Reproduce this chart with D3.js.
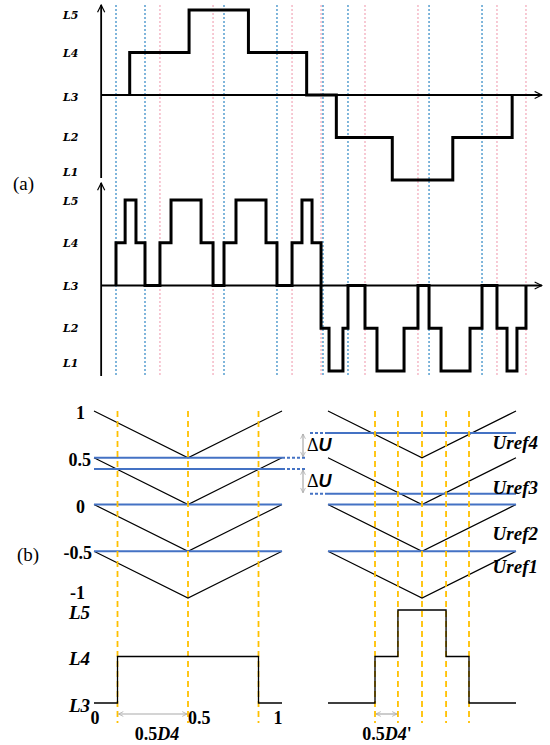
<!DOCTYPE html>
<html>
<head>
<meta charset="utf-8">
<script src="https://cdn.jsdelivr.net/npm/d3@7"></script>
<style>
body { margin: 0; background: #fff; }
</style>
</head>
<body>
<div id="chart"></div>
<script>
// ---- (a) staircase / PWM waveforms, time in degrees of the fundamental ----
const levelNames = ['L1', 'L2', 'L3', 'L4', 'L5'];
// [t, level from t on]
const staircaseWave = [[12, 3], [12, 4], [64, 5], [116, 4], [167, 3], [193, 2], [242, 1], [295, 2], [347, 3]];
const pwmWave = [
    [0, 3], [0, 4], [8, 5], [17.5, 4], [25.4, 3], [38.5, 4], [48.2, 5], [74.5, 4], [85, 3],
    [94.6, 4], [105.1, 5], [131.4, 4], [141, 3], [154.2, 4], [162.9, 5], [171.7, 4], [179.6, 2],
    [186.6, 1], [198.8, 2], [203.2, 3], [218.1, 2], [228.6, 1], [252.3, 2], [264.5, 3], [274.2, 2],
    [284.7, 1], [310.1, 2], [320.6, 3], [333.7, 2], [342.5, 1], [351.2, 2], [359.1, 3]
];
const blueGuides = [0, 25.4, 94.6, 141, 181.3, 203.2, 274.2, 320.6];
const pinkGuides = [38.5, 85, 154.2, 179.6, 218.1, 264.5, 333.7, 359.1];

// ---- (b) carrier comparison, one switching period ----
const carrierBands = [[0.5, 1], [0, 0.5], [-0.5, 0], [-1, -0.5]];
const carrierTicks = [1, 0.5, 0, -0.5, -1];
const urefLeft = [0.5, 0.38, 0, -0.5];
const urefRight = [0.765, 0.115, 0, -0.5];
const urefNames = ['Uref4', 'Uref3', 'Uref2', 'Uref1'];
const urefNamePos = [0.658, 0.187, -0.305, -0.668];
const switchLeft = [0.125, 0.5, 0.875];
const switchRight = [0.25, 0.372, 0.5, 0.628, 0.75];
const outLeft = [[0, 3], [0.125, 4], [0.875, 3], [1, 3]];
const outRight = [[0, 3], [0.25, 4], [0.372, 5], [0.628, 4], [0.75, 3], [1, 3]];
const outLevels = ['L3', 'L4', 'L5'];
const phaseTicks = [0, 0.5, 1];

const width = 550, height = 745;
const svg = d3.select('#chart').append('svg')
    .attr('width', width)
    .attr('height', height);

const defs = svg.append('defs');
defs.append('marker')
    .attr('id', 'axisArrow')
    .attr('viewBox', '0 0 10 10')
    .attr('refX', 9).attr('refY', 5)
    .attr('markerWidth', 5).attr('markerHeight', 5)
    .attr('markerUnits', 'strokeWidth')
    .attr('orient', 'auto')
    .append('path')
    .attr('d', 'M1,1 L9,5 L1,9')
    .attr('fill', 'none').attr('stroke', 'black').attr('stroke-width', 1.3);
defs.append('marker')
    .attr('id', 'greyArrow')
    .attr('viewBox', '0 0 10 10')
    .attr('refX', 9).attr('refY', 5)
    .attr('markerWidth', 6).attr('markerHeight', 6)
    .attr('markerUnits', 'userSpaceOnUse')
    .attr('orient', 'auto-start-reverse')
    .append('path')
    .attr('d', 'M1,1 L9,5 L1,9')
    .attr('fill', 'none').attr('stroke', '#aaa').attr('stroke-width', 1.3);

// ---------------- (a) ----------------
const xA = d3.scaleLinear().domain([0, 360]).range([116, 527]);
const yTop = d3.scaleLinear().domain([1, 5]).range([180, 10]);
const yBot = d3.scaleLinear().domain([1, 5]).range([371, 200]);

const gA = svg.append('g');

// dotted guides
gA.selectAll('.pink').data(pinkGuides).enter().append('line')
    .attr('x1', d => xA(d)).attr('x2', d => xA(d))
    .attr('y1', 5).attr('y2', 376)
    .attr('stroke', '#f2a7b8').attr('stroke-width', 1.2)
    .attr('stroke-dasharray', '2,2');
gA.selectAll('.blue').data(blueGuides).enter().append('line')
    .attr('x1', d => xA(d)).attr('x2', d => xA(d))
    .attr('y1', 5).attr('y2', 376)
    .attr('stroke', '#3d8fc8').attr('stroke-width', 1.3)
    .attr('stroke-dasharray', '2,2');

function drawPanel(y, wave, yAxisTop, yAxisBottom, labelDy) {
    // axes
    gA.append('line')
        .attr('x1', xA(-13)).attr('x2', xA(-13))
        .attr('y1', yAxisBottom).attr('y2', yAxisTop)
        .attr('stroke', 'black').attr('stroke-width', 1.8)
        .attr('marker-end', 'url(#axisArrow)');
    gA.append('line')
        .attr('x1', xA(-13)).attr('x2', xA(373))
        .attr('y1', y(3)).attr('y2', y(3))
        .attr('stroke', 'black').attr('stroke-width', 1.8)
        .attr('marker-end', 'url(#axisArrow)');

    gA.append('path')
        .datum(wave)
        .attr('d', d3.line().x(d => xA(d[0])).y(d => y(d[1])).curve(d3.curveStepAfter))
        .attr('fill', 'none')
        .attr('stroke', 'black')
        .attr('stroke-width', 3);

    gA.selectAll(null).data(levelNames).enter().append('text')
        .attr('x', 63)
        .attr('y', (d, i) => y(i + 1) + labelDy[i])
        .attr('dominant-baseline', 'central')
        .attr('font-family', 'DejaVu Serif')
        .attr('font-style', 'italic')
        .attr('font-weight', 'bold')
        .attr('font-size', 11)
        .text(d => d);
}

drawPanel(yTop, staircaseWave, 5, 178, [-8, 0, 2, 1, 5]);
drawPanel(yBot, pwmWave, 183, 376, [-8, 0, 1, 1, 1]);

svg.append('text')
    .attr('x', 13).attr('y', 190)
    .attr('font-family', 'Liberation Serif')
    .attr('font-size', 19)
    .text('(a)');

// ---------------- (b) ----------------
const yB = d3.scaleLinear().domain([-1, 1]).range([598, 411]);
const yOut = d3.scaleLinear().domain([3, 5]).range([703, 610]);
const xL = d3.scaleLinear().domain([0, 1]).range([94, 282]);
const xR = d3.scaleLinear().domain([0, 1]).range([328, 516]);

const gB = svg.append('g');

function drawCompare(x, urefs, switches, out) {
    // carriers
    carrierBands.forEach(b => {
        gB.append('path')
            .datum([[0, b[1]], [0.5, b[0]], [1, b[1]]])
            .attr('d', d3.line().x(d => x(d[0])).y(d => yB(d[1])))
            .attr('fill', 'none')
            .attr('stroke', 'black')
            .attr('stroke-width', 1.2);
    });
    // references
    gB.selectAll(null).data(urefs).enter().append('line')
        .attr('x1', x(0)).attr('x2', x(1))
        .attr('y1', d => yB(d)).attr('y2', d => yB(d))
        .attr('stroke', '#4472c4').attr('stroke-width', 2);
    // switching instants
    gB.selectAll(null).data(switches).enter().append('line')
        .attr('x1', d => x(d)).attr('x2', d => x(d))
        .attr('y1', 411).attr('y2', 723)
        .attr('stroke', '#ffc000').attr('stroke-width', 1.8)
        .attr('stroke-dasharray', '6,4');
    // output level
    gB.append('path')
        .datum(out)
        .attr('d', d3.line().x(d => x(d[0])).y(d => yOut(d[1])).curve(d3.curveStepAfter))
        .attr('fill', 'none')
        .attr('stroke', 'black')
        .attr('stroke-width', 1.3);
}

drawCompare(xL, urefLeft, switchLeft, outLeft);
drawCompare(xR, urefRight, switchRight, outRight);

// dotted connectors between panels for the ΔU shift
[[urefLeft[0], xL(1), 307], [urefLeft[1], xL(1), 307], [urefRight[0], 310, xR(0)], [urefRight[1], 310, xR(0)]]
    .forEach(c => {
        gB.append('line')
            .attr('x1', c[1]).attr('x2', c[2])
            .attr('y1', yB(c[0])).attr('y2', yB(c[0]))
            .attr('stroke', '#4472c4').attr('stroke-width', 2)
            .attr('stroke-dasharray', '3,2');
    });

// ΔU arrows
[[urefRight[0], urefLeft[0]], [urefLeft[1], urefRight[1]]].forEach(p => {
    gB.append('line')
        .attr('x1', 303).attr('x2', 303)
        .attr('y1', yB(p[0]) + 1).attr('y2', yB(p[1]) - 1)
        .attr('stroke', '#aaa').attr('stroke-width', 1.2)
        .attr('marker-start', 'url(#greyArrow)')
        .attr('marker-end', 'url(#greyArrow)');
    const t = gB.append('text')
        .attr('x', 307)
        .attr('y', (yB(p[0]) + yB(p[1])) / 2)
        .attr('dominant-baseline', 'central')
        .attr('font-size', 18);
    t.append('tspan').attr('font-family', 'Liberation Serif').text('Δ');
    t.append('tspan').attr('font-family', 'Liberation Sans').attr('font-weight', 'bold')
        .attr('font-style', 'italic').text('U');
});

// carrier value labels
gB.selectAll(null).data(carrierTicks).enter().append('text')
    .attr('x', d => d === 0.5 ? 91 : (d === -0.5 ? 92 : 85))
    .attr('y', d => yB(d) + (d === -1 ? -5 : 2))
    .attr('text-anchor', 'end')
    .attr('dominant-baseline', 'central')
    .attr('font-family', 'Liberation Serif')
    .attr('font-weight', 'bold')
    .attr('font-size', 18)
    .text(d => d);

// output level labels
gB.selectAll(null).data(outLevels).enter().append('text')
    .attr('x', 90)
    .attr('y', (d, i) => yOut(i + 3) + 2)
    .attr('text-anchor', 'end')
    .attr('dominant-baseline', 'central')
    .attr('font-family', 'Liberation Serif')
    .attr('font-weight', 'bold')
    .attr('font-style', 'italic')
    .attr('font-size', 19)
    .text(d => d);

// Uref labels
gB.selectAll(null).data(urefNames).enter().append('text')
    .attr('x', 538)
    .attr('y', (d, i) => yB(urefNamePos[i]))
    .attr('text-anchor', 'end')
    .attr('dominant-baseline', 'central')
    .attr('font-family', 'Liberation Serif')
    .attr('font-weight', 'bold')
    .attr('font-style', 'italic')
    .attr('font-size', 19)
    .text(d => d);

// phase ticks on the left output
gB.selectAll(null).data(phaseTicks).enter().append('text')
    .attr('x', d => d === 0.5 ? xL(d) : (d === 0 ? xL(d) + 1 : xL(d) - 4))
    .attr('y', 718)
    .attr('text-anchor', d => d === 0.5 ? 'start' : 'middle')
    .attr('dominant-baseline', 'central')
    .attr('font-family', 'Liberation Serif')
    .attr('font-weight', 'bold')
    .attr('font-size', 18)
    .text(d => d);

// duty arrows
[[xL, switchLeft[0], switchLeft[1]], [xR, switchRight[0], switchRight[1]]].forEach(a => {
    gB.append('line')
        .attr('x1', a[0](a[1]) + 1).attr('x2', a[0](a[2]) - 1)
        .attr('y1', 714).attr('y2', 714)
        .attr('stroke', '#aaa').attr('stroke-width', 1.2)
        .attr('marker-start', 'url(#greyArrow)')
        .attr('marker-end', 'url(#greyArrow)');
});

function dutyLabel(cx, suffix) {
    const t = gB.append('text')
        .attr('x', cx).attr('y', 734)
        .attr('text-anchor', 'middle')
        .attr('dominant-baseline', 'central')
        .attr('font-family', 'Liberation Serif')
        .attr('font-weight', 'bold')
        .attr('font-size', 18);
    t.append('tspan').text('0.5');
    t.append('tspan').attr('font-style', 'italic').text('D4');
    if (suffix) t.append('tspan').text(suffix);
}
dutyLabel(157, '');
dutyLabel(387, "'");

svg.append('text')
    .attr('x', 17).attr('y', 561)
    .attr('font-family', 'Liberation Serif')
    .attr('font-size', 19)
    .text('(b)');
</script>
</body>
</html>
